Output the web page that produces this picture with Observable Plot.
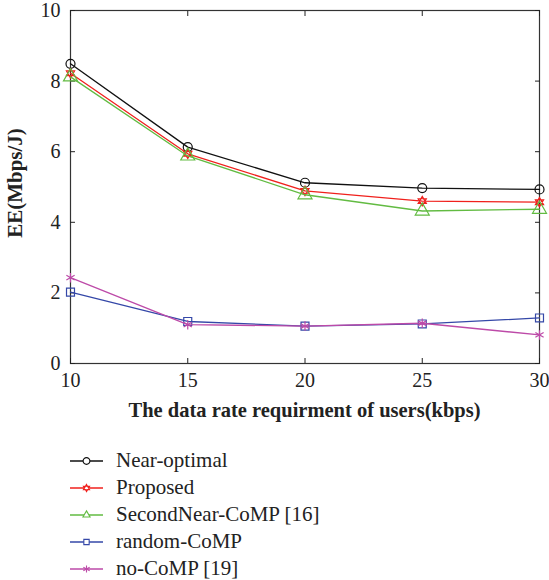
<!DOCTYPE html>
<html><head><meta charset="utf-8">
<script src="https://cdn.jsdelivr.net/npm/d3@7"></script>
<script src="https://cdn.jsdelivr.net/npm/@observablehq/plot@0.6"></script>
<style>
body{margin:0;background:#fff;font-family:"Liberation Serif","DejaVu Serif",serif;}
#legend{margin-left:68px;margin-top:22px;}
.row{display:flex;align-items:center;height:27px;font-size:21px;color:#222;}
.row svg{margin-right:12px;}
</style></head><body>
<div id="chart"></div>
<div id="legend"></div>
<script>
const rates = [10, 15, 20, 25, 30];
const nearOptimal = [8.49, 6.13, 5.12, 4.97, 4.93];
const proposed = [8.22, 5.94, 4.89, 4.60, 4.57];
const secondNear = [8.12, 5.88, 4.78, 4.32, 4.37];
const randomCoMP = [2.02, 1.19, 1.06, 1.12, 1.29];
const noCoMP = [2.43, 1.10, 1.06, 1.14, 0.81];
const seriesNames = ["Near-optimal", "Proposed", "SecondNear-CoMP [16]", "random-CoMP", "no-CoMP [19]"];
const xTicks = [10, 15, 20, 25, 30];
const yTicks = [0, 2, 4, 6, 8, 10];
const xLabel = "The data rate requirment of users(kbps)";
const yLabel = "EE(Mbps/J)";

const hexagram = {
  draw(ctx, size) {
    const r = Math.sqrt(size / Math.PI) * 1.05;
    for (const off of [-Math.PI / 2, Math.PI / 2]) {
      for (let i = 0; i < 3; i++) {
        const a = off + i * 2 * Math.PI / 3;
        const x = r * Math.cos(a), y = r * Math.sin(a);
        if (i === 0) ctx.moveTo(x, y); else ctx.lineTo(x, y);
      }
      ctx.closePath();
    }
  }
};
const styles = [
  {color: "#111111", symbol: "circle"},
  {color: "#f0201c", symbol: hexagram},
  {color: "#62bb42", symbol: "triangle"},
  {color: "#3548a8", symbol: "square"},
  {color: "#bd4aa8", symbol: "asterisk"}
];
const allValues = [nearOptimal, proposed, secondNear, randomCoMP, noCoMP];
const data = allValues.map((vals, s) => rates.map((r, i) => ({rate: r, ee: vals[i], s})));

const marks = [];
data.forEach((d, s) => {
  marks.push(Plot.line(d, {x: "rate", y: "ee", stroke: styles[s].color, strokeWidth: 1.3}));
  marks.push(Plot.dot(d, {x: "rate", y: "ee", stroke: styles[s].color, fill: "white", fillOpacity: 0, symbol: () => styles[s].symbol, r: s === 2 ? 5.2 : 4.5, strokeWidth: 1.2}));
});

const chart = Plot.plot({
  width: 549, height: 425,
  marginLeft: 70, marginRight: 10, marginTop: 10, marginBottom: 62,
  style: {fontFamily: "Liberation Serif, serif", fontSize: "20px", color: "#222", background: "white"},
  x: {domain: [10, 30], ticks: xTicks},
  y: {domain: [0, 10], ticks: yTicks},
  symbol: {type: "identity"},
  marks: [
    Plot.frame({stroke: "#333", strokeWidth: 1.2}),
    Plot.axisX(xTicks, {anchor: "bottom", tickSize: -5, label: null, fontSize: 20}),
    Plot.axisX(xTicks, {anchor: "top", tickSize: -5, tickFormat: () => "", label: null}),
    Plot.axisY(yTicks, {anchor: "left", tickSize: -5, label: null, fontSize: 20}),
    Plot.axisY(yTicks, {anchor: "right", tickSize: -5, tickFormat: () => "", label: null}),
    Plot.text([xLabel], {frameAnchor: "bottom", dy: 47, fontWeight: "bold", fontSize: 21, text: d => d}),
    Plot.text([yLabel], {frameAnchor: "left", rotate: -90, fontWeight: "bold", fontSize: 21, text: d => d}),
    ...marks
  ]
});
document.getElementById("chart").append(chart);

// fine placement of texts (measured positions, then shifted)
function place(el, {cx, cy, right}) {
  const s = chart.getBoundingClientRect();
  const r = el.getBoundingClientRect();
  let dx = 0, dy = 0;
  if (cx != null) dx = cx - (r.left - s.left + r.width / 2);
  if (right != null) dx = right - (r.right - s.left);
  if (cy != null) dy = cy - (r.top - s.top + r.height / 2);
  const g = document.createElementNS("http://www.w3.org/2000/svg", "g");
  g.setAttribute("transform", `translate(${dx},${dy})`);
  el.parentNode.insertBefore(g, el);
  g.appendChild(el);
}
const texts = Array.from(chart.querySelectorAll("text"));
const xl = texts.find(t => t.textContent === xLabel);
xl.setAttribute("textLength", 352);
xl.setAttribute("lengthAdjust", "spacingAndGlyphs");
place(xl, {cx: 304.5, cy: 410});
const yl = texts.find(t => t.textContent === yLabel);
place(yl, {cx: 15, cy: 183});
const xTickTexts = texts.filter(t => t.textContent !== "" && xTicks.map(String).includes(t.textContent) && t.closest('g[aria-label="x-axis tick label"]'));
xTickTexts.forEach(t => place(t, {cy: 380}));
const yTickTexts = texts.filter(t => t.textContent !== "" && t.closest('g[aria-label="y-axis tick label"]'));
yTickTexts.forEach(t => place(t, {right: 60.5}));

// legend
const leg = document.getElementById("legend");
seriesNames.forEach((name, s) => {
  const row = document.createElement("div");
  row.className = "row";
  const svg = d3.create("svg").attr("width", 36).attr("height", 16);
  svg.append("line").attr("x1", 2).attr("x2", 35).attr("y1", 8).attr("y2", 8).attr("stroke", styles[s].color).attr("stroke-width", 1.3);
  const symType = {circle: d3.symbolCircle, triangle: d3.symbolTriangle2, square: d3.symbolSquare2, asterisk: d3.symbolAsterisk}[styles[s].symbol] || styles[s].symbol;
  svg.append("path").attr("transform", "translate(18.5,8)").attr("d", d3.symbol(symType, 3.4 * 3.4 * Math.PI)())
    .attr("fill", "white").attr("stroke", styles[s].color).attr("stroke-width", 1.1);
  row.append(svg.node());
  const span = document.createElement("span");
  span.textContent = name;
  row.append(span);
  leg.append(row);
});
</script>
</body></html>
